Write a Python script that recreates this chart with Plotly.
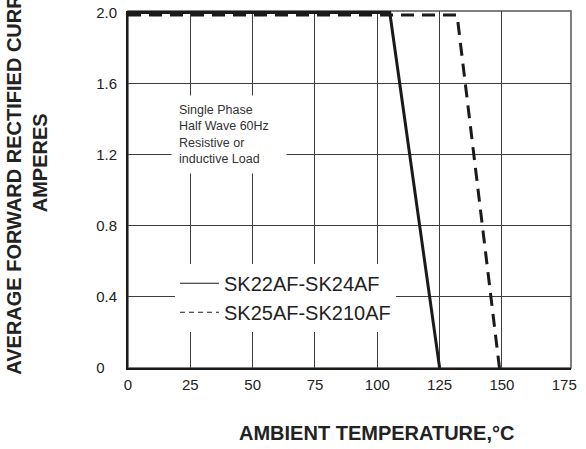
import plotly.graph_objects as go

# Data
temp_sk22_24 = [0, 105, 125]
curr_sk22_24 = [2.0, 2.0, 0.0]
temp_sk25_210 = [0, 132, 149]
curr_sk25_210 = [1.985, 1.985, 0.0]

x_ticks = [0, 25, 50, 75, 100, 125, 150, 175]
x_grid = [25, 50, 75, 100, 125, 150]
y_ticks = [0, 0.4, 0.8, 1.2, 1.6, 2.0]
y_tick_text = ["0\u00a0\u00a0\u00a0", "0.4", "0.8", "1.2", "1.6", "2.0"]
y_grid = [0.4, 0.8, 1.2, 1.6]

series_names = ["SK22AF-SK24AF", "SK25AF-SK210AF"]
note_text = "Single Phase<br>Half Wave 60Hz<br>Resistive or<br>inductive Load"
x_title = "AMBIENT TEMPERATURE,°C"
y_title = "AVERAGE FORWARD RECTIFIED CURRENT,<br>AMPERES"

FONT = "Arial, 'Liberation Sans', sans-serif"
INK = "#1a1a1a"
GRID = "#3c3c3c"

fig = go.Figure()
# actual curves (thick)
fig.add_trace(go.Scatter(x=temp_sk22_24, y=curr_sk22_24, mode="lines",
                         line=dict(color=INK, width=3), showlegend=False,
                         hoverinfo="skip"))
fig.add_trace(go.Scatter(x=temp_sk25_210, y=curr_sk25_210, mode="lines",
                         line=dict(color=INK, width=3, dash="13px,8px"),
                         showlegend=False, hoverinfo="skip"))
# legend entries (thin sample lines)
fig.add_trace(go.Scatter(x=[None], y=[None], mode="lines", name=series_names[0],
                         line=dict(color=INK, width=1.2)))
fig.add_trace(go.Scatter(x=[None], y=[None], mode="lines", name=series_names[1],
                         line=dict(color=INK, width=1.2, dash="5px,4px")))

fig.update_layout(
    width=586, height=449,
    margin=dict(l=128, r=15, t=11, b=81, autoexpand=False),
    paper_bgcolor="white", plot_bgcolor="white",
    font=dict(family=FONT, color=INK),
    xaxis=dict(range=[0, 177.7], tickmode="array", tickvals=x_ticks,
               showgrid=False, zeroline=False, showline=True, automargin=False,
               linecolor=INK, linewidth=2, ticks="",
               tickfont=dict(size=15, color="#222"), ticklabelstandoff=2,
               minor=dict(tickmode="array", tickvals=x_grid, showgrid=True,
                          gridcolor=GRID, gridwidth=1.3, ticks="")),
    yaxis=dict(range=[0, 2.008], tickmode="array", tickvals=y_ticks,
               ticktext=y_tick_text, automargin=False,
               showgrid=False, zeroline=False, showline=True,
               linecolor=INK, linewidth=2, ticks="",
               tickfont=dict(size=15, color="#222"), ticklabelstandoff=6,
               minor=dict(tickmode="array", tickvals=y_grid, showgrid=True,
                          gridcolor=GRID, gridwidth=1.3, ticks="")),
    legend=dict(x=0.106, y=0.292, xanchor="left", yanchor="top",
                bgcolor="white", borderwidth=0,
                font=dict(size=20, color="#222"), itemwidth=39,
                tracegroupgap=0),
    shapes=[dict(type="rect", xref="paper", yref="paper", x0=0, x1=1, y0=0, y1=1,
                 line=dict(color="#555", width=1.5), layer="below")],
    annotations=[
        dict(text=note_text, x=40.6, y=1.313, xref="x", yref="y",
             xanchor="center", yanchor="middle", showarrow=False, align="left",
             bgcolor="white", borderpad=7, width=100,
             font=dict(size=12.5, color="#333")),
        dict(text=x_title, x=0.562, y=-0.182, xref="paper", yref="paper",
             xanchor="center", yanchor="middle", showarrow=False,
             font=dict(size=20, color="#222", weight="bold")),
        dict(text=y_title, x=-0.228, y=0.575, xref="paper", yref="paper",
             xanchor="center", yanchor="middle", showarrow=False, textangle=-90,
             font=dict(size=20, color="#222", weight="bold")),
    ],
)

fig.write_html("out.html", config={"displayModeBar": False},
               post_script="document.body.style.margin='0';document.body.style.padding='0';document.body.style.overflow='hidden';")
